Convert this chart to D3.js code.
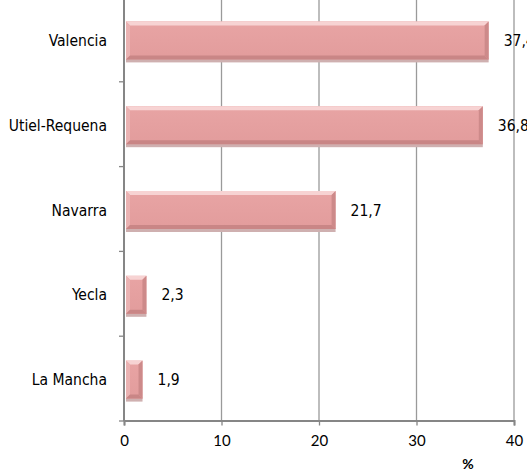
<!DOCTYPE html>
<html>
<head>
<meta charset="utf-8">
<script src="https://cdn.jsdelivr.net/npm/d3@7"></script>
<style>
  html, body { margin: 0; padding: 0; background: #fff; }
  svg { display: block; }
</style>
</head>
<body>
<svg id="chart" width="527" height="472"></svg>
<script>
const categories = ["Valencia", "Utiel-Requena", "Navarra", "Yecla", "La Mancha"];
const values = [37.4, 36.8, 21.7, 2.3, 1.9];
const valueLabels = ["37,4", "36,8", "21,7", "2,3", "1,9"];
const xTicks = [0, 10, 20, 30, 40];
const axisTitle = "%";

(function () {
const svg = d3.select("#chart");
const plotLeft = 124, plotRight = 514, plotTop = -3, plotBottom = 421;

const x = d3.scaleLinear().domain([0, 40]).range([plotLeft, plotRight]);
const y = d3.scaleBand().domain(categories).range([plotTop, plotBottom]).paddingInner(0).paddingOuter(0);
const step = y.step();
const barH = 38;

const labelFont = "'DejaVu Sans Condensed', 'DejaVu Sans', sans-serif";
const tickFont = "Lato, 'Open Sans', sans-serif";

svg.append("g").selectAll("line").data(xTicks.filter(d => d > 0)).join("line")
  .attr("x1", d => x(d)).attr("x2", d => x(d))
  .attr("y1", 0).attr("y2", plotBottom)
  .attr("stroke", "#9a9a9a").attr("stroke-width", 1.3);

const defs = svg.append("defs");
const g1 = defs.append("linearGradient").attr("id", "barFill").attr("x1", 0).attr("y1", 0).attr("x2", 0).attr("y2", 1);
g1.append("stop").attr("offset", "0%").attr("stop-color", "#e8a4a4");
g1.append("stop").attr("offset", "100%").attr("stop-color", "#e29c9c");

const bars = svg.append("g").selectAll("g").data(categories).join("g");
bars.each(function(c, i) {
  const g = d3.select(this);
  const x0 = x(0) + 2;
  const x1 = x(values[i]);
  const w = x1 - x0;
  const yc = y(c) + step / 2;
  const y0 = yc - 18;
  g.append("rect").attr("x", x0).attr("y", y0 + barH - 1).attr("width", w).attr("height", 4)
    .attr("fill", "#cfb0b0");
  g.append("rect").attr("x", x0).attr("y", y0).attr("width", w).attr("height", barH)
    .attr("fill", "url(#barFill)");
  g.append("path")
    .attr("d", `M${x0},${y0} L${x1},${y0} L${x1 - 4},${y0 + 4} L${x0 + 4},${y0 + 4} Z`)
    .attr("fill", "#f7d3d3");
  g.append("path")
    .attr("d", `M${x0},${y0} L${x0 + 4},${y0 + 4} L${x0 + 4},${y0 + barH - 4} L${x0},${y0 + barH} Z`)
    .attr("fill", "#eab2b2");
  g.append("path")
    .attr("d", `M${x1},${y0} L${x1},${y0 + barH} L${x1 - 4},${y0 + barH - 4} L${x1 - 4},${y0 + 4} Z`)
    .attr("fill", "#cd8a8a");
  g.append("path")
    .attr("d", `M${x0},${y0 + barH} L${x1},${y0 + barH} L${x1 - 4},${y0 + barH - 4} L${x0 + 4},${y0 + barH - 4} Z`)
    .attr("fill", "#c98686");
  g.append("text").attr("x", x1 + 15).attr("y", yc + 6.5)
    .attr("font-family", labelFont).attr("font-size", "15.5px").attr("fill", "#000")
    .text(valueLabels[i]);
});

svg.append("line").attr("x1", plotLeft).attr("x2", plotLeft).attr("y1", 0).attr("y2", plotBottom)
  .attr("stroke", "#868686").attr("stroke-width", 2);
svg.append("g").selectAll("line").data(categories).join("line")
  .attr("x1", plotLeft - 5).attr("x2", plotLeft)
  .attr("y1", d => y(d) + step).attr("y2", d => y(d) + step)
  .attr("stroke", "#868686").attr("stroke-width", 1.3);
svg.append("g").selectAll("text").data(categories).join("text")
  .attr("x", 107).attr("y", d => y(d) + step / 2 + 6.5)
  .attr("text-anchor", "end")
  .attr("font-family", labelFont).attr("font-size", "15.5px").attr("fill", "#000")
  .text(d => d);

const xAxis = d3.axisBottom(x).tickValues(xTicks).tickSize(5).tickPadding(10).tickFormat(d3.format("d"));
const ax = svg.append("g").attr("transform", `translate(0,${plotBottom - 0.5})`).call(xAxis);
ax.select(".domain").attr("stroke", "#868686").attr("stroke-width", 2);
ax.selectAll(".tick line").attr("stroke", "#868686").attr("stroke-width", 1.3);
ax.selectAll(".tick text").attr("font-family", tickFont).attr("font-size", "15px").attr("fill", "#000");

svg.append("text").attr("x", 468).attr("y", 469)
  .attr("text-anchor", "middle")
  .attr("font-family", tickFont).attr("font-weight", "bold").attr("font-size", "14px")
  .text(axisTitle);
})();
</script>
</body>
</html>
